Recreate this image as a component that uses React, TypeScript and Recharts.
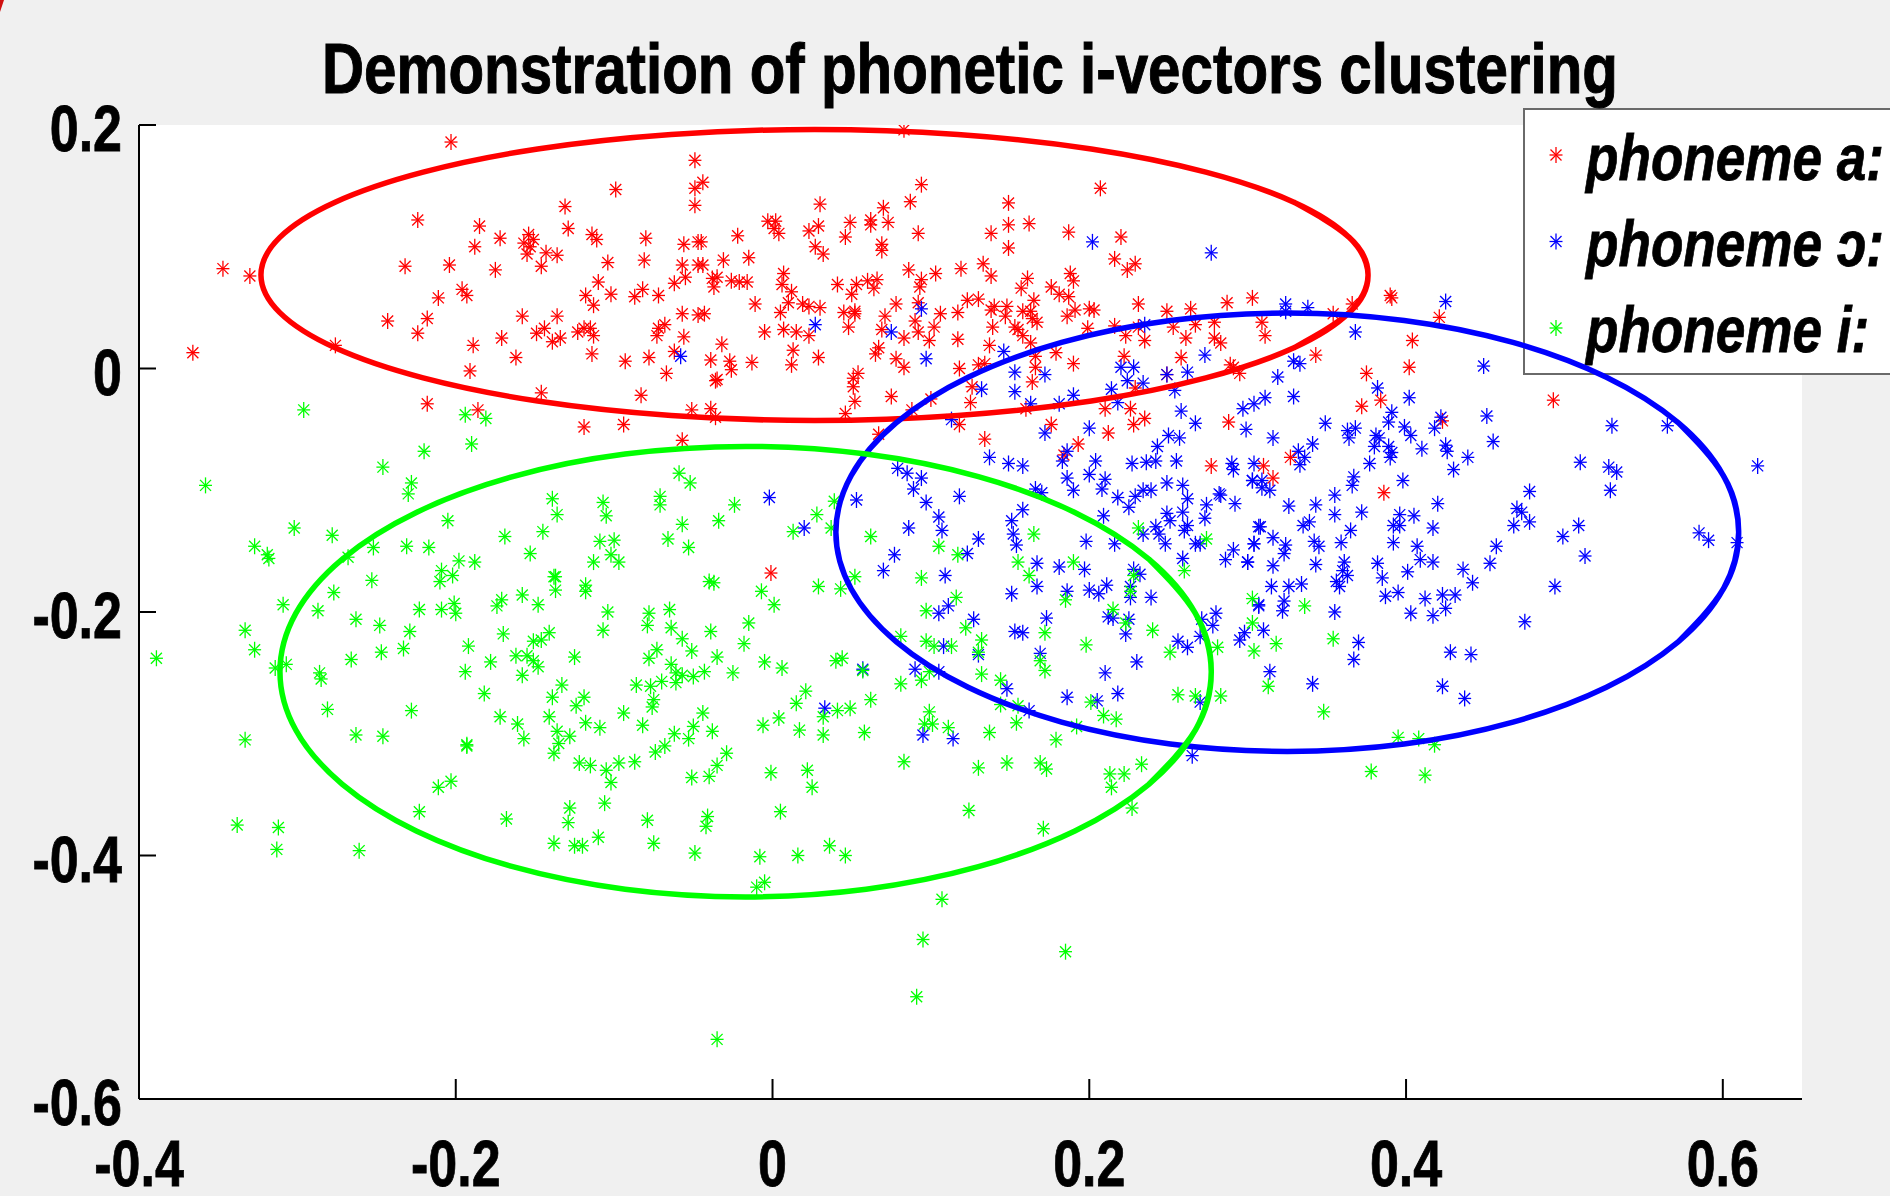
import { ComposedChart, Line, Scatter, XAxis, YAxis } from 'recharts'

const TITLE = 'Demonstration of phonetic i-vectors clustering'
const RED = '#ff0000'
const BLUE = '#0000ff'
const GREEN = '#00ff00'

const xTicks = [-0.4, -0.2, 0, 0.2, 0.4, 0.6]
const yTicks = [-0.6, -0.4, -0.2, 0, 0.2]

const redPoints = [
  [-.203,.186],[-.049,.171],[-.099,.147],[-.131,.133],[-.049,.148],[-.049,.134],[-.224,.122],[-.185,.117],[-.129,.115],[-.172,.107],
  [-.114,.110],[-.111,.106],[-.154,.110],[-.151,.106],[-.157,.103],[-.153,.100],[-.155,.094],[-.080,.107],[-.056,.102],[-.047,.104],
  [-.188,.100],[-.143,.095],[-.136,.093],[-.081,.089],[-.104,.087],[-.057,.085],[-.047,.085],[-.146,.084],[-.204,.085],[-.232,.084],
  [-.175,.081],[-.347,.082],[-.330,.076],[-.055,.075],[-.062,.070],[-.110,.071],[-.196,.065],[-.193,.060],[-.211,.058],[-.082,.065],
  [-.102,.061],[-.118,.060],[-.087,.059],[-.072,.060],[-.113,.052],[-.057,.045],[-.047,.044],[-.158,.043],[-.136,.043],[-.243,.039],
  [-.218,.041],[-.144,.033],[-.068,.036],[-.072,.033],[-.119,.033],[-.115,.033],[-.123,.030],[-.149,.029],[-.224,.029],[-.073,.027],
  [-.113,.027],[-.056,.026],[-.134,.025],[-.139,.022],[-.171,.025],[-.189,.019],[-.276,.019],[-.366,.013],[-.114,.012],[-.162,.009],
  [-.062,.014],[-.078,.009],[-.093,.006],[-.067,-.004],[-.191,-.002],[-.146,-.020],[-.083,-.022],[-.218,-.029],[-.186,-.034],[-.051,-.034],
  [-.119,-.048],[-.094,-.046],[-.057,-.059],
  [.083,.196],[-.044,.153],[.094,.151],[.207,.148],[.030,.135],[.149,.136],[.087,.137],[.070,.132],[-.003,.121],[.002,.121],
  [.001,.115],[.004,.111],[.023,.113],[.029,.117],[.049,.120],[.062,.122],[.062,.118],[.073,.120],[.149,.118],[.162,.119],
  [.138,.111],[-.022,.109],[.092,.111],[.046,.108],[.187,.112],[.220,.108],[-.045,.104],[.069,.102],[.027,.100],[.149,.099],
  [.069,.097],[.032,.094],[-.015,.091],[-.031,.089],[-.044,.085],[.216,.090],[.229,.086],[.224,.081],[.133,.086],[.119,.082],
  [.086,.081],[.103,.078],[.007,.078],[.138,.076],[.188,.078],[.190,.072],[.161,.074],[-.038,.074],[-.035,.075],[-.037,.067],
  [-.026,.072],[-.021,.071],[-.016,.071],[.094,.073],[.093,.067],[.066,.073],[.060,.072],[.064,.066],[.053,.069],[.041,.069],
  [.157,.066],[.176,.067],[.181,.061],[.187,.059],[.006,.069],[.012,.063],[.050,.061],[.165,.056],[.130,.057],[.123,.056],
  [.231,.053],[.287,.054],[.303,.058],[-.011,.053],[.010,.054],[.019,.053],[.023,.051],[.030,.050],[.078,.053],[.092,.054],
  [.140,.051],[.138,.048],[.148,.051],[.200,.049],[.203,.048],[.264,.049],[.249,.047],[.191,.048],[-.043,.045],[.005,.046],
  [.045,.046],[.052,.047],[.052,.045],[.071,.043],[.106,.045],[.117,.046],[.158,.047],[.163,.047],[.147,.043],[.164,.041],
  [.167,.038],[.186,.043],[.090,.039],[-.005,.030],[.007,.032],[.015,.030],[.023,.027],[.048,.034],[.069,.032],[.092,.030],
  [.102,.034],[.153,.034],[.139,.034],[.155,.032],[.199,.033],[.216,.035],[.231,.034],[.253,.034],[.267,.036],[.279,.038],
  [.083,.025],[.099,.023],[.117,.024],[.158,.027],[.223,.027],[.235,.023],[.261,.025],[.279,.025],[.283,.021],[-.032,.020],
  [.163,.021],[.137,.019],[.013,.015],[.067,.017],[.065,.012],[.179,.013],[-.039,.007],[-.027,.006],[-.013,.005],[.029,.009],
  [.078,.008],[.083,.001],[.012,.003],[-.026,-.001],[.118,0],[.130,.003],[.134,.004],[.166,.010],[.166,.001],[.190,.004],
  [.222,.010],[.258,.009],[.249,-.005],[.289,.003],[.291,.001],[.295,-.004],[-.036,-.010],[-.035,-.009],[.054,-.004],[.051,-.008],
  [.051,-.015],[.164,-.011],[.229,-.016],[.126,-.015],[.052,-.027],[.075,-.023],[.100,-.025],[.125,-.028],[-.039,-.033],[-.036,-.040],
  [.046,-.037],[.088,-.034],[.160,-.033],[.210,-.033],[.226,-.033],[.235,-.041],[.228,-.046],[.118,-.046],[.176,-.046],[.212,-.053],
  [.288,-.044],[.067,-.054],[.134,-.058],[.193,-.062],[.184,-.071],[.277,-.080],
  [.354,.045],[.366,.053],[.390,.060],[.391,.058],[.421,.042],[.309,.038],[.311,.027],[.404,.023],[.343,.011],[.375,-.004],
  [.402,.001],[.493,-.026],[.384,-.026],[.372,-.031],[.423,-.043],[.310,-.080],[.327,-.073],[.316,-.090],[.386,-.102],[-.001,-.168],
]

const bluePoints = [
  [-.058,.010],[.094,.049],[.027,.036],[.075,.030],[.097,.008],[.202,.104],[.277,.095],[.146,.014],[.235,.036],[.153,-.003],
  [.172,-.005],[.132,-.017],[.153,-.019],[.220,.001],[.228,.001],[.224,-.010],[.234,-.012],[.249,-.005],[.262,-.003],[.273,.011],
  [.214,-.017],[.190,-.022],[.254,-.018],[.181,-.029],[.163,-.029],[.218,-.028],[.258,-.035],[.267,-.045],[.297,-.033],[.304,-.029],
  [.299,-.050],[.113,-.042],[.172,-.053],[.200,-.049],[.250,-.055],[.257,-.057],[.243,-.064],[.186,-.068],[.183,-.076],[.137,-.073],
  [.149,-.078],[.158,-.080],[.204,-.076],[.227,-.078],[.236,-.077],[.242,-.076],[.255,-.076],[.290,-.078],[.304,-.078],[.079,-.082],
  [.324,.053],[.324,.047],[.338,.050],[.425,.055],[.368,.030],[.329,.006],[.333,.004],[.319,-.007],[.449,.002],[.382,-.016],
  [.402,-.024],[.311,-.024],[.329,-.023],[.316,-.057],[.349,-.045],[.391,-.036],[.389,-.044],[.399,-.048],[.403,-.055],[.418,-.049],
  [.422,-.040],[.451,-.039],[.455,-.060],[.363,-.051],[.368,-.049],[.364,-.057],[.381,-.055],[.383,-.057],[.380,-.064],[.389,-.064],
  [.391,-.069],[.390,-.073],[.341,-.062],[.410,-.066],[.425,-.063],[.426,-.068],[.332,-.068],[.336,-.073],[.333,-.079],[.377,-.078],
  [.439,-.073],[.430,-.083],[.510,-.077],[.528,-.081],[.533,-.085],[.530,-.047],[.565,-.047],[.622,-.080],[.291,-.083],[.303,-.092],
  [.309,-.092],[.309,-.098],[.314,-.100],[.367,-.089],[.366,-.096],[.398,-.092],[.478,-.101],[.529,-.100],[.282,-.103],[.355,-.104],
  [-.002,-.106],[.020,-.131],[.053,-.108],[.085,-.086],[.094,-.090],[.089,-.099],[.118,-.105],[.097,-.110],[.105,-.122],[.107,-.133],
  [.086,-.131],[.130,-.140],[.077,-.153],[.123,-.152],[.070,-.166],[.109,-.170],[.186,-.090],[.200,-.087],[.210,-.091],[.190,-.100],
  [.208,-.099],[.166,-.099],[.170,-.102],[.158,-.116],[.151,-.125],[.152,-.136],[.154,-.145],[.218,-.106],[.229,-.105],[.234,-.100],
  [.239,-.100],[.225,-.114],[.249,-.094],[.259,-.096],[.262,-.107],[.274,-.112],[.283,-.104],[.292,-.111],[.303,-.092],[.209,-.121],
  [.249,-.119],[.259,-.118],[.251,-.125],[.273,-.123],[.262,-.129],[.260,-.133],[.242,-.130],[.244,-.136],[.234,-.136],[.248,-.144],
  [.267,-.144],[.270,-.144],[.307,-.130],[.198,-.142],[.216,-.144],[.259,-.156],[.291,-.149],[.286,-.157],[.300,-.159],[.304,-.144],
  [.167,-.160],[.181,-.163],[.197,-.165],[.228,-.165],[.232,-.169],[.167,-.179],[.151,-.185],[.186,-.183],[.200,-.182],[.206,-.185],
  [.211,-.178],[.226,-.179],[.226,-.188],[.239,-.188],[.307,-.194],[.111,-.195],[.105,-.201],[.127,-.206],[.173,-.205],[.212,-.204],
  [.215,-.205],[.225,-.206],[.280,-.201],[.271,-.206],[.278,-.211],[.153,-.216],[.158,-.217],[.223,-.218],[.270,-.220],[.298,-.217],
  [.295,-.223],[.256,-.224],[.262,-.229],[.108,-.228],[.130,-.235],[.169,-.234],[.230,-.241],[.057,-.247],[.090,-.247],[.105,-.249],
  [.210,-.250],[.148,-.263],[.186,-.270],[.218,-.267],[.205,-.273],[.270,-.274],[.162,-.281],[.033,-.279],[.095,-.301],[.114,-.304],
  [.265,-.318],
  [.326,-.113],[.343,-.112],[.355,-.120],[.372,-.118],[.420,-.111],[.396,-.120],[.405,-.121],[.308,-.130],[.316,-.139],[.339,-.126],
  [.335,-.129],[.365,-.133],[.392,-.129],[.396,-.129],[.417,-.131],[.470,-.115],[.473,-.118],[.468,-.129],[.478,-.126],[.509,-.129],
  [.499,-.138],[.585,-.135],[.591,-.141],[.609,-.143],[.304,-.144],[.324,-.145],[.342,-.142],[.345,-.146],[.359,-.143],[.392,-.143],
  [.407,-.146],[.457,-.146],[.513,-.154],[.323,-.152],[.300,-.159],[.316,-.162],[.343,-.161],[.361,-.159],[.382,-.160],[.409,-.157],
  [.417,-.159],[.453,-.160],[.436,-.165],[.360,-.166],[.363,-.170],[.401,-.167],[.385,-.172],[.442,-.176],[.356,-.175],[.358,-.179],
  [.315,-.179],[.326,-.179],[.334,-.177],[.494,-.179],[.387,-.187],[.395,-.184],[.412,-.189],[.423,-.186],[.431,-.186],[.323,-.191],
  [.307,-.195],[.322,-.199],[.355,-.200],[.425,-.197],[.403,-.201],[.417,-.203],[.475,-.208],[.310,-.215],[.370,-.225],[.367,-.239],
  [.428,-.233],[.441,-.235],[.314,-.249],[.341,-.259],[.423,-.261],[.437,-.271],
]

const greenPoints = [
  [-.296,-.034],[-.194,-.038],[-.181,-.041],[-.190,-.062],[-.220,-.068],
  [-.246,-.081],[-.358,-.096],[-.228,-.094],[-.230,-.103],[-.059,-.086],[-.052,-.094],[-.071,-.105],[-.071,-.112],[-.139,-.107],[-.107,-.110],
  [-.105,-.121],[-.136,-.120],[-.205,-.125],[-.302,-.131],[-.278,-.137],[-.057,-.128],[-.145,-.134],[-.169,-.138],[-.066,-.140],[-.053,-.147],
  [-.327,-.146],[-.319,-.153],[-.318,-.156],[-.252,-.147],[-.231,-.146],[-.217,-.147],[-.109,-.142],[-.100,-.141],[-.268,-.155],[-.153,-.152],
  [-.102,-.153],[-.097,-.159],[-.113,-.159],[-.198,-.158],[-.188,-.159],[-.209,-.166],[-.202,-.170],[-.210,-.175],[-.253,-.174],[-.138,-.171],
  [-.137,-.171],[-.137,-.182],[-.118,-.178],[-.118,-.183],[-.277,-.184],[-.171,-.190],[-.174,-.195],[-.158,-.186],[-.148,-.194],[-.309,-.194],
  [-.287,-.199],[-.263,-.206],[-.223,-.198],[-.209,-.198],[-.201,-.193],[-.200,-.201],[-.104,-.200],[-.078,-.201],[-.065,-.198],[-.248,-.211],
  [-.229,-.216],[-.079,-.211],[-.064,-.213],[-.107,-.215],[-.333,-.215],[-.170,-.218],[-.141,-.217],[-.151,-.224],[-.146,-.223],[-.057,-.222],
  [-.192,-.228],[-.327,-.231],[-.233,-.230],[-.247,-.233],[-.051,-.232],[-.073,-.231],[-.078,-.238],[-.389,-.238],[-.266,-.239],[-.125,-.237],
  [-.162,-.236],[-.155,-.236],[-.151,-.240],[-.148,-.245],[-.064,-.243],[-.178,-.241],[-.307,-.243],[-.314,-.246],[-.194,-.249],[-.286,-.250],
  [-.285,-.255],[-.158,-.252],[-.061,-.250],[-.057,-.252],[-.050,-.253],[-.070,-.257],[-.061,-.258],[-.077,-.261],[-.086,-.260],[-.133,-.260],
  [-.182,-.267],[-.139,-.270],[-.119,-.270],[-.124,-.277],[-.075,-.272],[-.076,-.278],[-.281,-.280],[-.228,-.281],[-.094,-.283],[-.172,-.286],
  [-.141,-.286],[-.161,-.292],[-.118,-.291],[-.109,-.295],[-.082,-.293],[-.050,-.294],[-.263,-.301],[-.246,-.302],[-.333,-.305],[-.157,-.304],
  [-.136,-.298],[-.128,-.302],[-.062,-.300],[-.053,-.304],[-.193,-.309],[-.193,-.310],[-.135,-.308],[-.138,-.316],[-.068,-.310],[-.074,-.315],
  [-.122,-.324],[-.115,-.326],[-.097,-.324],[-.087,-.323],[-.105,-.330],[-.102,-.340],[-.051,-.336],[-.203,-.339],[-.211,-.344],[-.106,-.357],
  [-.128,-.361],[-.223,-.364],[-.168,-.370],[-.079,-.371],[-.129,-.373],[-.338,-.375],[-.312,-.377],[-.110,-.385],[-.138,-.390],[-.125,-.392],
  [-.120,-.392],[-.075,-.390],[-.049,-.398],[-.261,-.396],[-.313,-.395],
  [-.024,-.112],[-.034,-.125],[.039,-.109],[.028,-.120],[.013,-.134],[.037,-.131],[.062,-.138],[.105,-.146],[.117,-.153],[.165,-.136],
  [.155,-.159],[.190,-.159],[.162,-.170],[.228,-.170],[.231,-.131],[.274,-.140],[.260,-.166],[.094,-.172],[.052,-.171],[.029,-.179],
  [.043,-.181],[-.040,-.175],[-.037,-.176],[-.007,-.183],[.001,-.194],[.185,-.190],[.226,-.183],[.116,-.188],[.097,-.199],[.215,-.198],
  [.303,-.189],[.223,-.209],[.240,-.215],[.303,-.209],[-.015,-.209],[-.039,-.216],[.122,-.213],[.172,-.217],[-.018,-.226],[.081,-.220],
  [.097,-.224],[.102,-.228],[.113,-.228],[.132,-.223],[.198,-.227],[.251,-.233],[.281,-.229],[.304,-.232],[-.035,-.237],[-.005,-.241],
  [.006,-.246],[.040,-.240],[.044,-.238],[.057,-.248],[.130,-.233],[.169,-.240],[.172,-.248],[-.043,-.249],[-.025,-.250],[.094,-.256],
  [.081,-.259],[.099,-.249],[.132,-.251],[.144,-.256],[.021,-.265],[.062,-.272],[.015,-.275],[.256,-.268],[.267,-.269],[.283,-.269],
  [.201,-.274],[.144,-.276],[.155,-.277],[-.044,-.283],[.004,-.287],[.041,-.281],[.049,-.279],[.032,-.286],[.099,-.282],[.209,-.285],
  [.217,-.288],[-.006,-.293],[.017,-.297],[.032,-.301],[.058,-.299],[-.038,-.298],[.096,-.292],[.101,-.292],[.111,-.295],[.154,-.291],
  [.137,-.299],[.192,-.294],[.179,-.305],[-.029,-.316],[-.035,-.326],[-.040,-.335],[-.001,-.332],[.022,-.330],[.083,-.323],[.130,-.328],
  [.148,-.324],[.169,-.324],[.173,-.329],[.213,-.333],[.222,-.333],[.233,-.325],[.214,-.344],[.025,-.344],[.005,-.364],[.124,-.363],
  [.227,-.361],[-.041,-.368],[-.042,-.376],[.171,-.378],[.036,-.392],[-.008,-.401],[.016,-.400],[.046,-.400],
  [.336,-.195],[.318,-.226],[.354,-.222],[.313,-.261],[.348,-.282],[.395,-.303],[.408,-.304],[.418,-.309],[.378,-.331],[.412,-.334],
  [-.010,-.426],[-.005,-.422],[.107,-.436],[.095,-.469],[.185,-.479],[.091,-.516],[-.035,-.551],
]

// ellipse outlines, traced round once with a little overlap so the curve closes cleanly
const redEllipse = [
  [.3292,.017],[.3641,.0459],[.376,.0768],[.3641,.1077],[.3292,.1366],[.2736,.1613],[.2013,.1803],[.117,.1922],[.0265,.1963],[-.064,.1922],
  [-.1483,.1803],[-.2206,.1613],[-.2762,.1366],[-.3111,.1077],[-.323,.0768],[-.3111,.0459],[-.2762,.017],[-.2206,-.0077],[-.1483,-.0267],[-.064,-.0386],
  [.0265,-.0427],[.117,-.0386],[.2013,-.0267],[.2736,-.0077],[.3292,.017],[.3641,.0459],[.376,.0768],[.3641,.1077],[.3292,.1366],
]
const blueEllipse = [
  [.5718,-.2245],[.6003,-.1811],[.61,-.1345],[.6003,-.0879],[.5718,-.0445],[.5265,-.0072],[.4675,.0214],[.3988,.0394],[.325,.0455],[.2512,.0394],
  [.1825,.0214],[.1235,-.0072],[.0782,-.0445],[.0497,-.0879],[.04,-.1345],[.0497,-.1811],[.0782,-.2245],[.1235,-.2618],[.1825,-.2904],[.2512,-.3084],
  [.325,-.3145],[.3988,-.3084],[.4675,-.2904],[.5265,-.2618],[.5718,-.2245],[.6003,-.1811],[.61,-.1345],[.6003,-.0879],[.5718,-.0445],
]
const greenEllipse = [
  [.2376,-.3415],[.267,-.2969],[.277,-.249],[.267,-.2011],[.2376,-.1565],[.1909,-.1182],[.13,-.0888],[.0591,-.0703],[-.017,-.064],[-.0931,-.0703],
  [-.164,-.0888],[-.2249,-.1182],[-.2716,-.1565],[-.301,-.2011],[-.311,-.249],[-.301,-.2969],[-.2716,-.3415],[-.2249,-.3798],[-.164,-.4092],[-.0931,-.4277],
  [-.017,-.434],[.0591,-.4277],[.13,-.4092],[.1909,-.3798],[.2376,-.3415],[.267,-.2969],[.277,-.249],[.267,-.2011],[.2376,-.1565],
]

const legendItems = [
  { label: 'phoneme a:', color: RED, squeeze: 0.83 },
  { label: 'phoneme ɔ:', color: BLUE, squeeze: 0.83 },
  { label: 'phoneme i:', color: GREEN, squeeze: 0.83 },
]

const toRows = (pts: number[][]) => pts.map(([x, y]) => ({ x, y }))

const FONT = '"Liberation Sans", Arial, sans-serif'

function Star({ cx, cy, color }: { cx: number; cy: number; color: string }) {
  return (
    <g stroke={color} strokeWidth={1.3}>
      <line x1={cx} y1={cy - 8} x2={cx} y2={cy + 8} />
      <line x1={cx - 6.5} y1={cy} x2={cx + 6.5} y2={cy} />
      <line x1={cx - 5.5} y1={cy - 5.5} x2={cx + 5.5} y2={cy + 5.5} />
      <line x1={cx - 5.5} y1={cy + 5.5} x2={cx + 5.5} y2={cy - 5.5} />
    </g>
  )
}

const starShape = (color: string) => (props: any) => <Star cx={props.cx} cy={props.cy} color={color} />

function AxisLabel({ x, y, anchor, children }: { x: number; y: number; anchor: 'middle' | 'end'; children: string }) {
  return (
    <text
      transform={`translate(${x},${y}) scale(0.8,1)`}
      textAnchor={anchor}
      style={{ fontFamily: FONT, fontWeight: 700, fontSize: 65, fill: '#000', stroke: '#000', strokeWidth: 0.8 }}
    >
      {children}
    </text>
  )
}

const fmt = (v: number) => (v === 0 ? '0' : v.toFixed(1))

function XTick({ x, payload }: any) {
  return <AxisLabel x={x} y={1186} anchor="middle">{fmt(payload.value)}</AxisLabel>
}

function YTick({ payload, y }: any) {
  return <AxisLabel x={122} y={y + 26} anchor="end">{fmt(payload.value)}</AxisLabel>
}

function PhonemeLegend() {
  return (
    <div
      style={{
        position: 'absolute',
        left: 1523,
        top: 108,
        width: 367,
        height: 267,
        boxSizing: 'border-box',
        background: '#fff',
        border: '2px solid #6a6a6a',
        borderRight: 'none',
      }}
    >
      <svg width={367} height={267} style={{ position: 'absolute', left: -2, top: -2 }}>
        {legendItems.map((item, i) => (
          <g key={item.label}>
            <Star cx={33} cy={47 + i * 86.5} color={item.color} />
            <text
              transform={`translate(63,${72 + i * 86}) scale(${item.squeeze},1)`}
              style={{ fontFamily: FONT, fontWeight: 700, fontStyle: 'italic', fontSize: 64, fill: '#000', stroke: '#000', strokeWidth: 0.8 }}
            >
              {item.label}
            </text>
          </g>
        ))}
      </svg>
    </div>
  )
}

export default function App() {
  return (
    <div style={{ position: 'relative', width: 1890, height: 1196, background: '#f0f0f0', overflow: 'hidden', zIndex: 0 }}>
      <style>{'body{margin:0}'}</style>
      <div style={{ position: 'absolute', left: 139, top: 125, width: 1663, height: 974, background: '#fff' }} />
      <PhonemeLegend />
      <div style={{ position: 'absolute', left: 0, top: 0 }}>
        <ComposedChart width={1890} height={1196} margin={{ top: 125, right: 88, bottom: 0, left: 0 }}>
          <XAxis
            type="number"
            dataKey="x"
            height={97}
            domain={[-0.4, 0.65]}
            ticks={xTicks}
            interval={0}
            allowDataOverflow
            axisLine={{ stroke: '#000', strokeWidth: 2 }}
            tickLine={{ stroke: '#000', strokeWidth: 2 }}
            tickSize={-20}
            tick={<XTick />}
          />
          <YAxis
            type="number"
            dataKey="y"
            width={139}
            domain={[-0.6, 0.2]}
            ticks={yTicks}
            interval={0}
            allowDataOverflow
            axisLine={{ stroke: '#000', strokeWidth: 2 }}
            tickLine={{ stroke: '#000', strokeWidth: 2 }}
            tickSize={-17}
            tick={<YTick />}
          />
          <Scatter data={toRows(redPoints)} isAnimationActive={false} shape={starShape(RED)} />
          <Scatter data={toRows(bluePoints)} isAnimationActive={false} shape={starShape(BLUE)} />
          <Scatter data={toRows(greenPoints)} isAnimationActive={false} shape={starShape(GREEN)} />
          <Line data={toRows(redEllipse)} dataKey="y" type="natural" stroke={RED} strokeWidth={5.5} dot={false} isAnimationActive={false} zIndex={700} />
          <Line data={toRows(blueEllipse)} dataKey="y" type="natural" stroke={BLUE} strokeWidth={5.5} dot={false} isAnimationActive={false} zIndex={700} />
          <Line data={toRows(greenEllipse)} dataKey="y" type="natural" stroke={GREEN} strokeWidth={5.5} dot={false} isAnimationActive={false} zIndex={700} />
        </ComposedChart>
      </div>
      <svg width={1890} height={125} style={{ position: 'absolute', left: 0, top: 0, pointerEvents: 'none' }}>
        {/* sliver of the cropped panel letter in the corner */}
        <path d="M0 0 L4 0 L0 12 Z" fill="#d01010" />
        <text
          x={322}
          y={93}
          textLength={1296}
          lengthAdjust="spacingAndGlyphs"
          style={{ fontFamily: FONT, fontWeight: 700, fontSize: 70, fill: '#000', stroke: '#000', strokeWidth: 1 }}
        >
          {TITLE}
        </text>
      </svg>
    </div>
  )
}
